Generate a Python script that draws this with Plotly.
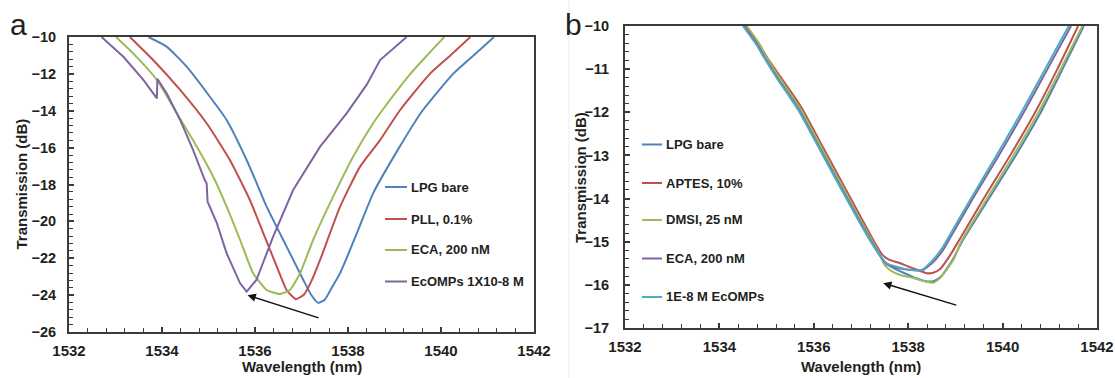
import plotly.graph_objects as go

# ---------------- Panel a data ----------------
a_names = ["LPG bare", "PLL, 0.1%", "ECA, 200 nM", "EcOMPs 1X10-8 M"]
a_colors = ["#4F81BD", "#C0504D", "#9BBB59", "#8064A2"]

a_lpg_x = [1533.71, 1534.10, 1534.53, 1535.03, 1535.39, 1535.82, 1536.04, 1536.25, 1536.68, 1537.04,
           1537.20, 1537.36, 1537.50, 1537.65, 1537.83, 1538.19, 1538.54, 1539.10, 1539.60, 1540.26, 1540.70, 1541.14]
a_lpg_y = [-10.0, -10.52, -11.61, -13.24, -14.50, -16.67, -17.95, -19.20, -21.37, -23.18,
           -23.95, -24.42, -24.25, -23.60, -22.81, -20.65, -18.48, -16.0, -14.0, -12.0, -11.0, -10.0]

a_pll_x = [1533.31, 1533.81, 1534.39, 1534.96, 1535.46, 1535.89, 1536.18, 1536.47, 1536.68, 1536.88,
           1537.06, 1537.22, 1537.40, 1537.83, 1538.26, 1538.69, 1539.11, 1539.76, 1540.20, 1540.63]
a_pll_y = [-10.0, -11.25, -12.87, -14.68, -16.67, -18.84, -20.65, -22.46, -23.72, -24.22,
           -23.95, -23.20, -22.09, -19.20, -17.03, -15.59, -14.0, -12.0, -11.0, -10.0]

a_eca_x = [1533.01, 1533.38, 1533.89, 1534.32, 1534.75, 1535.10, 1535.39, 1535.68, 1535.96, 1536.25,
           1536.54, 1536.75, 1536.97, 1537.25, 1537.68, 1538.11, 1538.54, 1538.73, 1539.34, 1539.70, 1540.07]
a_eca_y = [-10.0, -10.89, -12.33, -14.14, -15.95, -17.57, -19.20, -21.01, -22.81, -23.72,
           -23.94, -23.72, -22.81, -21.01, -18.66, -16.49, -14.68, -14.0, -12.0, -11.0, -10.0]

a_ecomp_x = [1532.70, 1533.17, 1533.60, 1533.89, 1533.90, 1534.10, 1534.39, 1534.67, 1534.92, 1534.96,
             1534.98, 1535.18, 1535.39, 1535.68, 1535.82, 1536.03, 1536.39, 1536.82, 1537.40, 1537.97,
             1538.40, 1538.69, 1539.26]
a_ecomp_y = [-10.0, -11.07, -12.33, -13.33, -12.26, -13.05, -14.50, -16.13, -17.76, -17.93,
             -18.93, -20.10, -21.73, -23.36, -23.81, -23.18, -20.83, -18.30, -15.95, -14.14,
             -12.60, -11.25, -10.0]

# ---------------- Panel b data ----------------
b_names = ["LPG bare", "APTES, 10%", "DMSI, 25 nM", "ECA, 200 nM", "1E-8 M EcOMPs"]
b_colors = ["#4F81BD", "#C0504D", "#9BBB59", "#8064A2", "#4BACC6"]

b_lpg_x = [1534.52, 1534.80, 1535.00, 1535.28, 1535.50, 1535.71, 1536.13, 1536.55, 1536.98, 1537.25,
           1537.42, 1537.54, 1537.70, 1537.90, 1538.15, 1538.40, 1538.55, 1538.70, 1538.95, 1539.14,
           1539.71, 1540.28, 1540.81, 1541.27, 1541.72]
b_lpg_y = [-10.0, -10.42, -10.80, -11.28, -11.62, -11.97, -12.82, -13.68, -14.55, -15.05,
           -15.35, -15.50, -15.62, -15.72, -15.84, -15.92, -15.91, -15.80, -15.40, -15.0,
           -14.0, -13.0, -12.0, -11.0, -10.0]

b_aptes_x = [1534.56, 1534.84, 1535.04, 1535.32, 1535.55, 1535.76, 1536.18, 1536.60, 1537.02, 1537.28,
             1537.45, 1537.58, 1537.83, 1538.11, 1538.39, 1538.53, 1538.67, 1538.89, 1539.06, 1539.60,
             1540.16, 1540.69, 1541.16, 1541.60]
b_aptes_y = [-10.0, -10.42, -10.78, -11.22, -11.58, -11.93, -12.78, -13.63, -14.48, -15.0,
             -15.30, -15.41, -15.50, -15.62, -15.73, -15.72, -15.64, -15.31, -15.0, -14.0,
             -13.0, -12.0, -11.0, -10.0]

b_dmsi_x = [1534.58, 1534.84, 1535.03, 1535.30, 1535.52, 1535.73, 1536.15, 1536.57, 1536.99, 1537.25,
            1537.40, 1537.50, 1537.65, 1537.83, 1538.11, 1538.39, 1538.53, 1538.67, 1538.96, 1539.12,
            1539.67, 1540.23, 1540.76, 1541.23, 1541.69]
b_dmsi_y = [-10.0, -10.40, -10.78, -11.24, -11.60, -11.95, -12.80, -13.65, -14.50, -15.0,
            -15.30, -15.54, -15.68, -15.77, -15.84, -15.93, -15.95, -15.85, -15.42, -15.0,
            -14.0, -13.0, -12.0, -11.0, -10.0]

b_eca_x = [1534.52, 1534.79, 1535.00, 1535.27, 1535.49, 1535.70, 1536.12, 1536.54, 1536.97, 1537.24,
           1537.40, 1537.54, 1537.83, 1538.18, 1538.32, 1538.53, 1538.74, 1538.84, 1539.37, 1539.92,
           1540.45, 1540.95, 1541.45]
b_eca_y = [-10.0, -10.42, -10.80, -11.27, -11.62, -11.97, -12.82, -13.67, -14.52, -15.03,
           -15.32, -15.52, -15.62, -15.66, -15.65, -15.47, -15.19, -15.0, -14.0, -13.0,
           -12.0, -11.0, -10.0]

b_ecomp_x = [1534.50, 1534.78, 1534.99, 1535.26, 1535.48, 1535.69, 1536.11, 1536.53, 1536.96, 1537.23,
             1537.40, 1537.54, 1537.83, 1538.10, 1538.28, 1538.50, 1538.72, 1538.80, 1539.33, 1539.87,
             1540.40, 1540.90, 1541.40]
b_ecomp_y = [-10.0, -10.43, -10.81, -11.28, -11.63, -11.98, -12.83, -13.68, -14.53, -15.04,
             -15.32, -15.50, -15.60, -15.66, -15.66, -15.45, -15.15, -15.0, -14.0, -13.0,
             -12.0, -11.0, -10.0]

# axis / labels
x_title = "Wavelength (nm)"
y_title = "Transmission (dB)"
a_x_range = [1532, 1542]
a_y_range = [-26, -10]
b_x_range = [1532, 1542]
b_y_range = [-17, -10]

# arrows (tail -> head) in data units
a_arrow = dict(tail=(1537.40, -25.26), head=(1535.84, -24.0))
b_arrow = dict(tail=(1539.05, -16.48), head=(1537.47, -15.96))

# ---------------- Figure ----------------
W, H = 1115, 378
FONT = "Liberation Sans, Arial, sans-serif"
TXT = "#231f20"
AX = "#3a3a3a"


def px(xp):
    return xp / W


def py(yp):
    return 1 - yp / H


fig = go.Figure()

a_series = [(a_lpg_x, a_lpg_y), (a_pll_x, a_pll_y), (a_eca_x, a_eca_y), (a_ecomp_x, a_ecomp_y)]
for (xs, ys), nm, col in zip(a_series, a_names, a_colors):
    shape = "linear" if nm.startswith("EcOMPs") else "spline"
    fig.add_trace(go.Scatter(x=xs, y=ys, mode="lines", name=nm, showlegend=False,
                             line=dict(color=col, width=2, shape=shape, smoothing=0.5),
                             xaxis="x", yaxis="y"))

b_series = [(b_lpg_x, b_lpg_y), (b_aptes_x, b_aptes_y), (b_dmsi_x, b_dmsi_y), (b_eca_x, b_eca_y),
            (b_ecomp_x, b_ecomp_y)]
for (xs, ys), nm, col in zip(b_series, b_names, b_colors):
    fig.add_trace(go.Scatter(x=xs, y=ys, mode="lines", name=nm, showlegend=False,
                             line=dict(color=col, width=2, shape="spline", smoothing=0.5),
                             xaxis="x2", yaxis="y2"))

tickfont = dict(family=FONT, size=15, color=TXT, weight="bold")
ytickfont = dict(family=FONT, size=14.5, color=TXT, weight="bold")


def xaxis_cfg(domain, rng, anchor):
    return dict(domain=domain, range=rng, anchor=anchor, dtick=2, tick0=1532, automargin=False,
                ticks="inside", ticklen=5, tickwidth=1.5, tickcolor=AX, ticklabelstandoff=4,
                minor=dict(dtick=0.4, tick0=1532, ticks="inside", ticklen=4, tickwidth=1.2, tickcolor=AX),
                showline=True, linewidth=2, linecolor=AX, mirror=True,
                showgrid=False, zeroline=False, tickfont=tickfont, fixedrange=True)


def yaxis_cfg(domain, rng, anchor, dt, mdt, standoff):
    return dict(domain=domain, range=rng, anchor=anchor, dtick=dt, tick0=-10, automargin=False,
                ticks="inside", ticklen=5, tickwidth=1.5, tickcolor=AX, ticklabelstandoff=standoff,
                minor=dict(dtick=mdt, tick0=-10, ticks="inside", ticklen=4, tickwidth=1.2, tickcolor=AX),
                showline=True, linewidth=2, linecolor=AX, mirror=True,
                showgrid=False, zeroline=False, tickfont=ytickfont, fixedrange=True)


# pixel frames of the two plot areas
a_l, a_r, a_t, a_b = 69, 534, 37, 332
b_l, b_r, b_t, b_b = 625, 1097, 26, 328

fig.update_layout(
    width=W, height=H, autosize=False,
    margin=dict(l=0, r=0, t=0, b=0, pad=0),
    paper_bgcolor="white", plot_bgcolor="white",
    xaxis=xaxis_cfg([px(a_l), px(a_r)], a_x_range, "y"),
    yaxis=yaxis_cfg([py(a_b), py(a_t)], a_y_range, "x", 2, 0.4, 8),
    xaxis2=xaxis_cfg([px(b_l), px(b_r)], b_x_range, "y2"),
    yaxis2=yaxis_cfg([py(b_b), py(b_t)], b_y_range, "x2", 1, 0.2, 11),
)

ann = []
shapes = []

# faint separator between panels
shapes.append(dict(type="line", xref="paper", yref="paper", x0=px(569), x1=px(569), y0=0, y1=1,
                   line=dict(color="#ededed", width=1)))

# panel letters
ann.append(dict(text="a", xref="paper", yref="paper", x=px(18), y=py(24), showarrow=False,
                xanchor="center", yanchor="middle", font=dict(family=FONT, size=30, color=TXT)))
ann.append(dict(text="b", xref="paper", yref="paper", x=px(573), y=py(24), showarrow=False,
                xanchor="center", yanchor="middle", font=dict(family=FONT, size=30, color=TXT)))

# axis titles
title_font = dict(family=FONT, size=15, color=TXT, weight="bold")
for (l, r, t, b, tx) in [(a_l, a_r, a_t, a_b, 21), (b_l, b_r, b_t, b_b, 580)]:
    ann.append(dict(text=x_title, xref="paper", yref="paper", x=px((l + r) / 2), y=py(366),
                    showarrow=False, xanchor="center", yanchor="middle", font=title_font))
    ann.append(dict(text=y_title, xref="paper", yref="paper", x=px(tx), y=py((t + b) / 2),
                    showarrow=False, xanchor="center", yanchor="middle", textangle=-90, font=title_font))

# arrows
for arr, xr, yr in [(a_arrow, "x", "y"), (b_arrow, "x2", "y2")]:
    ann.append(dict(text="", x=arr["head"][0], y=arr["head"][1], ax=arr["tail"][0], ay=arr["tail"][1],
                    xref=xr, yref=yr, axref=xr, ayref=yr, showarrow=True, arrowhead=2,
                    arrowsize=1.1, arrowwidth=1.5, arrowcolor="#111"))

# manual legends (positions in plot-area pixels)
leg_font = dict(family=FONT, size=13, color=TXT, weight="bold")


def add_legend(names, colors, x_line0, x_line1, x_text, rows, xr, yr, l, r, t, b):
    for nm, col, row in zip(names, colors, rows):
        xd0 = (x_line0 - l) / (r - l)
        xd1 = (x_line1 - l) / (r - l)
        yd = (b - row) / (b - t)
        shapes.append(dict(type="line", xref=xr + " domain", yref=yr + " domain",
                           x0=xd0, x1=xd1, y0=yd, y1=yd, line=dict(color=col, width=2)))
        ann.append(dict(text=nm, xref=xr + " domain", yref=yr + " domain",
                        x=(x_text - l) / (r - l), y=yd, showarrow=False,
                        xanchor="left", yanchor="middle", font=leg_font))


add_legend(a_names, a_colors, 385, 407, 409, [187, 219, 250, 281.5], "x", "y", a_l, a_r, a_t, a_b)
add_legend(b_names, b_colors, 642, 662, 664, [144.5, 183, 220, 258.5, 297], "x2", "y2", b_l, b_r, b_t, b_b)

fig.update_layout(annotations=ann, shapes=shapes)
fig.write_html("out.html", config=dict(displayModeBar=False),
               post_script="document.body.style.margin='0';document.body.style.overflow='hidden';")
